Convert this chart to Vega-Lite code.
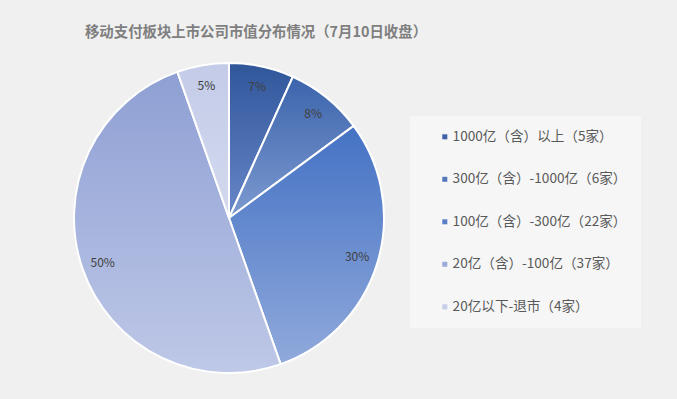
{
  "$schema": "https://vega.github.io/schema/vega-lite/v6.json",
  "width": 458,
  "height": 362,
  "autosize": {"type": "none"},
  "padding": {"left": 0, "top": 37, "right": 219, "bottom": 0},
  "background": "#F0F0F0",
  "config": {"view": {"stroke": null}, "font": "Noto Sans CJK SC"},
  "title": {
    "text": "移动支付板块上市公司市值分布情况（7月10日收盘）",
    "font": "Noto Sans CJK SC",
    "fontSize": 14.4,
    "fontWeight": "bold",
    "color": "#7F7F7F",
    "anchor": "middle",
    "orient": "top",
    "baseline": "middle",
    "offset": 5,
    "dx": 27,
    "dy": 15
  },
  "data": {
    "values": [
      {"k": 1, "cat": "1000亿（含）以上（5家）", "n": 5, "label": "7%"},
      {"k": 2, "cat": "300亿（含）-1000亿（6家）", "n": 6, "label": "8%"},
      {"k": 3, "cat": "100亿（含）-300亿（22家）", "n": 22, "label": "30%"},
      {"k": 4, "cat": "20亿（含）-100亿（37家）", "n": 37, "label": "50%"},
      {"k": 5, "cat": "20亿以下-退市（4家）", "n": 4, "label": "5%"}
    ]
  },
  "encoding": {
    "theta": {"field": "n", "type": "quantitative", "stack": true},
    "order": {"field": "k", "type": "ordinal"}
  },
  "layer": [
    {
      "mark": {"type": "arc", "outerRadius": 155},
      "encoding": {
        "color": {
          "field": "cat",
          "type": "nominal",
          "sort": null,
          "scale": {
            "domain": ["1000亿（含）以上（5家）", "300亿（含）-1000亿（6家）", "100亿（含）-300亿（22家）", "20亿（含）-100亿（37家）", "20亿以下-退市（4家）"],
            "range": ["#3F62A8", "#5578BC", "#5A7FC8", "#9DAAD8", "#C6CEEA"]
          },
          "legend": {
            "title": null,
            "orient": "none",
            "legendX": 410,
            "legendY": 79,
            "padding": 14,
            "symbolOffset": 14,
            "fillColor": "#F6F6F6",
            "symbolType": "square",
            "symbolSize": 25,
            "symbolStrokeWidth": 0,
            "labelFont": "Noto Sans CJK SC",
            "labelFontSize": 13.6,
            "labelColor": "#595959",
            "labelOffset": 1,
            "labelLimit": 300,
            "rowPadding": 27.5
          }
        }
      }
    },
    {
      "mark": {"type": "arc", "outerRadius": 155, "stroke": "#FFFFFF", "strokeWidth": 2},
      "encoding": {
        "fill": {
          "condition": [
            {"test": "datum.k == 1", "value": {"gradient": "linear", "x1": 0, "y1": 0, "x2": 0, "y2": 1, "stops": [{"offset": 0, "color": "#30569A"}, {"offset": 1, "color": "#6787C8"}]}},
            {"test": "datum.k == 2", "value": {"gradient": "linear", "x1": 0, "y1": 0, "x2": 0, "y2": 1, "stops": [{"offset": 0, "color": "#3C64AC"}, {"offset": 1, "color": "#7D9AD0"}]}},
            {"test": "datum.k == 3", "value": {"gradient": "linear", "x1": 0, "y1": 0, "x2": 0, "y2": 1, "stops": [{"offset": 0, "color": "#4472C4"}, {"offset": 1, "color": "#90A9DB"}]}},
            {"test": "datum.k == 4", "value": {"gradient": "linear", "x1": 0, "y1": 0, "x2": 0, "y2": 1, "stops": [{"offset": 0, "color": "#8E9FD3"}, {"offset": 1, "color": "#BEC8E7"}]}}
          ],
          "value": {"gradient": "linear", "x1": 0, "y1": 0, "x2": 0, "y2": 1, "stops": [{"offset": 0, "color": "#C3CBE8"}, {"offset": 1, "color": "#D3DAEE"}]}
        }
      }
    },
    {
      "mark": {"type": "text", "radius": 134, "fontSize": 12, "font": "Noto Sans CJK SC", "color": "#404040"},
      "encoding": {
        "text": {"field": "label", "type": "nominal"}
      }
    }
  ]
}
